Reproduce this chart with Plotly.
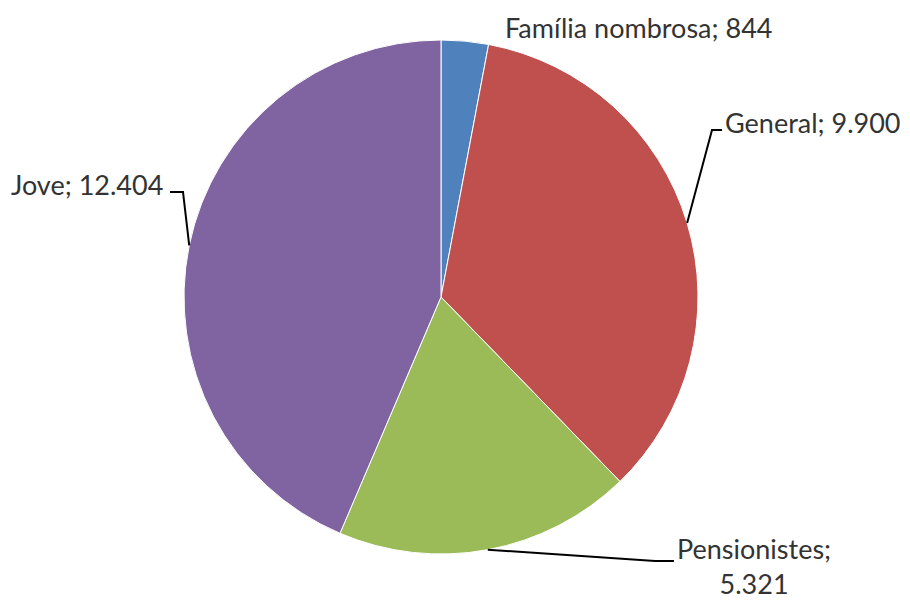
import math
import plotly.graph_objects as go

# ---- data ----
categories = ["Família nombrosa", "General", "Pensionistes", "Jove"]
values = [844, 9900, 5321, 12404]
value_labels = ["844", "9.900", "5.321", "12.404"]
colors = ["#4F81BD", "#C0504D", "#9BBB59", "#8064A2"]

W, H = 910, 600
CX, CY, R = 441, 297, 257  # pie centre / radius in pixels (layout)

def px(x):
    return x / W

def py(y):
    return 1 - y / H

fig = go.Figure(go.Pie(
    labels=categories,
    values=values,
    sort=False,
    direction="clockwise",
    rotation=0,
    marker=dict(colors=colors, line=dict(color="white", width=1)),
    textinfo="none",
    hoverinfo="label+value",
    domain=dict(x=[px(CX - R), px(CX + R)], y=[py(CY + R), py(CY - R)]),
    showlegend=False,
))

# mid-angles of slices (clockwise from 12 o'clock), from data
total = sum(values)
mids = []
acc = 0
for v in values:
    mids.append((acc + v / 2) / total * 360)
    acc += v

def edge(i):
    a = math.radians(mids[i])
    return CX + R * math.sin(a), CY - R * math.cos(a)

# label layout: (text, x, y, xanchor, elbow points or None)
label_layout = [
    (f"{categories[0]}; {value_labels[0]}", 503, 28, "left", None),
    (f"{categories[1]}; {value_labels[1]}", 723, 123, "left", [(712, 130), (722, 130)]),
    (f"{categories[2]};<br>{value_labels[2]}", 754, 566, "center", [(655, 561), (674, 561)]),
    (f"{categories[3]}; {value_labels[3]}", 165, 184, "right", [(183, 192), (170, 192)]),
]

font = dict(family="Lato, Open Sans, sans-serif", size=27, color="#333333")

for i, (txt, x, y, xa, elbow) in enumerate(label_layout):
    fig.add_annotation(
        x=px(x), y=py(y), xref="paper", yref="paper",
        text=txt, showarrow=False, xanchor=xa, yanchor="middle",
        font=font, align="center",
    )
    if elbow:
        ex, ey = edge(i)
        pts = [(ex, ey)] + elbow
        path = "M " + " L ".join(f"{px(a):.5f},{py(b):.5f}" for a, b in pts)
        fig.add_shape(type="path", path=path, xref="paper", yref="paper",
                      line=dict(color="black", width=2))

fig.update_layout(
    width=W, height=H,
    margin=dict(l=0, r=0, t=0, b=0),
    paper_bgcolor="white",
    plot_bgcolor="white",
)

fig.write_html("out.html", config={"displayModeBar": False},
               post_script="document.body.style.margin='0';")
